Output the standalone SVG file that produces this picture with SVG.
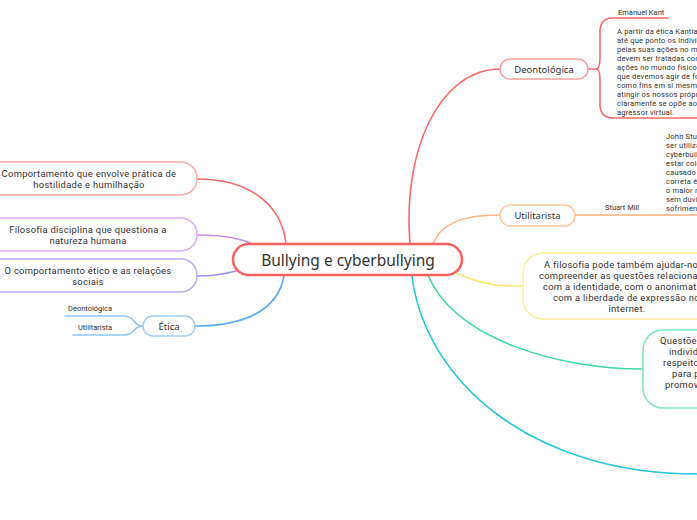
<svg xmlns="http://www.w3.org/2000/svg" width="697" height="520" viewBox="0 0 697 520">
<style>
text{font-family:"Noto Sans","Liberation Sans",sans-serif;fill:#333;}
.c{fill:none;stroke-width:1.6;stroke-linecap:round;}
.b{fill:#fff;stroke-width:1.5;}
.t9{font-family:Roboto,"Liberation Sans",sans-serif;font-size:9.4px;letter-spacing:0.3px;}
.t7{font-family:Roboto,"Liberation Sans",sans-serif;font-size:7.5px;letter-spacing:0.2px;}
.mid{text-anchor:middle;}
</style>
<rect width="697" height="520" fill="#fff"/>
<g id="connectors">
<path class="c" stroke="#f86a6a" d="M286,244 C282,205 250,179 197,179"/>
<path class="c" stroke="#c98af0" d="M258,246 C240,238 225,235 197,235"/>
<path class="c" stroke="#9c8ff5" d="M236,271 C222,275 212,276 197,276"/>
<path class="c" stroke="#5aaaf0" d="M284,276 C278,310 245,326 195,326"/>
<path class="c" stroke="#90c4f5" d="M65,316 L123,316 C136,316 132,326 143,326"/>
<path class="c" stroke="#90c4f5" d="M73,335 L123,335 C136,335 132,326 143,326"/>
<path class="c" stroke="#f86a6a" d="M410,244 C402,150 440,69 500,69"/>
<path class="c" stroke="#f86a6a" d="M588,69 L596,69 Q600,69 600,58 L600,32 Q600,18 613,18 L668,18"/>
<path class="c" stroke="#f86a6a" d="M596,69 Q600,69 600,80 L600,104 Q600,118 613,118 L697,118"/>
<path class="c" stroke="#ffb380" d="M433,244 C440,225 460,215 500,215"/>
<path class="c" stroke="#ffb380" d="M575,215 L697,215"/>
<path class="c" stroke="#fbe774" d="M456,273 C485,286 500,286 523,286"/>
<path class="c" stroke="#3fd6a4" d="M428,275 C455,340 560,369 643,369"/>
<path class="c" stroke="#22c8d8" d="M412,276 C425,380 530,474 697,474"/>
</g>
<g id="center">
<rect x="233" y="244" width="229" height="31" rx="15.5" fill="#fff" stroke="#f86060" stroke-width="2.5"/>
<text x="348" y="266" class="mid" style="font-size:15.5px">Bullying e cyberbullying</text>
</g>
<g id="n-comportamento">
<rect class="b" x="-20" y="162" width="217" height="33" rx="16" stroke="#f8a6a6"/>
<text x="89" y="177" class="t9 mid">Comportamento que envolve prática de</text>
<text x="89" y="188" class="t9 mid">hostilidade e humilhação</text>
</g>
<g id="n-filosofia">
<rect class="b" x="-20" y="218" width="217" height="33" rx="16" stroke="#dcaaf5"/>
<text x="88" y="233" class="t9 mid">Filosofia disciplina que questiona a</text>
<text x="88" y="244" class="t9 mid">natureza humana</text>
</g>
<g id="n-etico">
<rect class="b" x="-20" y="259" width="217" height="33" rx="16" stroke="#b3acf7"/>
<text x="88" y="274" class="t9 mid">O comportamento ético e as relações</text>
<text x="88" y="285" class="t9 mid">sociais</text>
</g>
<g id="n-etica">
<rect class="b" x="143" y="316" width="52" height="20" rx="10" stroke="#9fcbf5"/>
<text x="169" y="329.5" class="mid" style="font-size:9.5px">Ética</text>
</g>
<g id="n-etica-deont">
<text x="68" y="311" class="t7" style="letter-spacing:0">Deontológica</text>
</g>
<g id="n-etica-util">
<text x="78" y="330" class="t7" style="letter-spacing:0">Utilitarista</text>
</g>
<g id="n-deontologica">
<rect class="b" x="500" y="59" width="88" height="20" rx="10" stroke="#f8a0a0"/>
<text x="544" y="72.5" class="mid" style="font-size:9.5px">Deontológica</text>
</g>
<g id="n-kant">
<text x="618" y="14.5" class="t7" style="letter-spacing:0">Emanuel Kant</text>
</g>
<g id="n-kant-text">
<text x="617" y="33.5" class="t7">A partir da ética Kantia</text>
<text x="617" y="42.5" class="t7">até que ponto os indivíd</text>
<text x="617" y="51.5" class="t7">pelas suas ações no mu</text>
<text x="617" y="60.5" class="t7">devem ser tratadas com</text>
<text x="617" y="69.5" class="t7">ações no mundo físico. K</text>
<text x="617" y="78.5" class="t7">que devemos agir de fo</text>
<text x="617" y="87.5" class="t7">como fins em si mesmo</text>
<text x="617" y="96.5" class="t7">atingir os nossos própri</text>
<text x="617" y="105.5" class="t7">claramente se opõe ao</text>
<text x="617" y="114.5" class="t7">agressor virtual.</text>
</g>
<g id="n-utilitarista">
<rect class="b" x="500" y="205" width="75" height="21" rx="10.5" stroke="#ffc6a0"/>
<text x="537.5" y="219" class="mid" style="font-size:9.5px">Utilitarista</text>
</g>
<g id="n-mill">
<text x="605" y="210" class="t7" style="letter-spacing:0">Stuart Mill</text>
</g>
<g id="n-mill-text">
<text x="666" y="138.5" class="t7">John Stuar</text>
<text x="666" y="147.5" class="t7">ser utiliza</text>
<text x="666" y="156.5" class="t7">cyberbulli</text>
<text x="666" y="165.5" class="t7">estar cole</text>
<text x="666" y="174.5" class="t7">causado p</text>
<text x="666" y="183.5" class="t7">correta é</text>
<text x="666" y="192.5" class="t7">o maior n</text>
<text x="666" y="201.5" class="t7">sem dúvid</text>
<text x="666" y="210.5" class="t7">sofriment</text>
</g>
<g id="n-filosofia-identidade">
<rect class="b" x="523" y="253" width="200" height="66" rx="20" stroke="#fbf0a0"/>
<text x="544" y="268" class="t9">A filosofia pode também ajudar-no</text>
<text x="539" y="279" class="t9">compreender as questões relaciona</text>
<text x="543" y="290" class="t9">com a identidade, com o anonimat</text>
<text x="553" y="301" class="t9">com a liberdade de expressão no</text>
<text x="627" y="312" class="t9 mid">internet.</text>
</g>
<g id="n-questoes">
<rect class="b" x="643" y="330" width="80" height="78" rx="20" stroke="#7ee5c2"/>
<text x="660" y="344" class="t9">Questõe</text>
<text x="669" y="355" class="t9">individu</text>
<text x="663" y="366" class="t9">respeito</text>
<text x="672" y="377" class="t9">para p</text>
<text x="665" y="388" class="t9">promov</text>
</g>
</svg>
